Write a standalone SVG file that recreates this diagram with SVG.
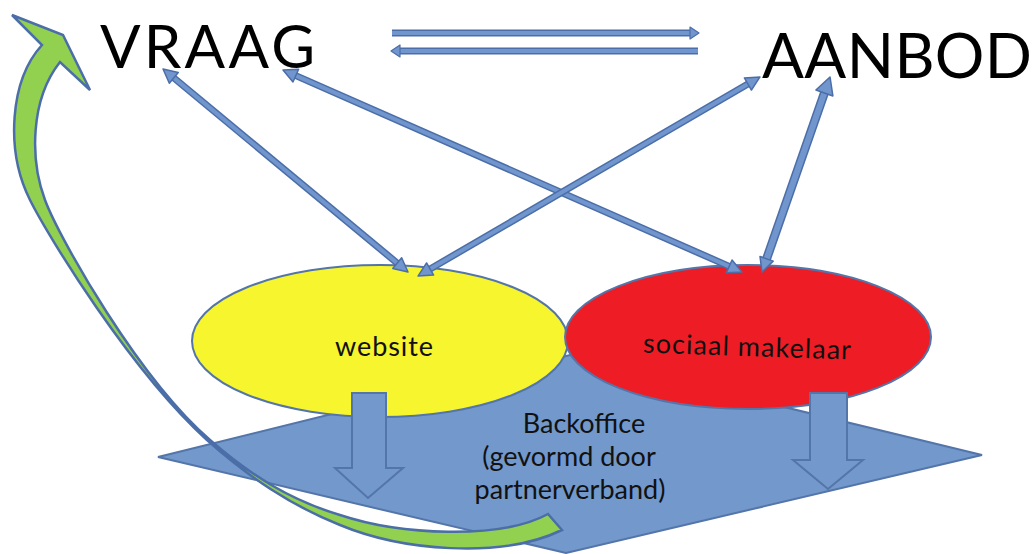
<svg xmlns="http://www.w3.org/2000/svg" width="1036" height="554" viewBox="0 0 1036 554">
<style>
.lbl{font-family:Lato,"Open Sans","Liberation Sans",sans-serif;fill:#111;}
.big{font-family:Lato,"Liberation Sans",sans-serif;fill:#000;}
.shape{stroke:#5475a9;stroke-width:2;}
.conOut{stroke:#4b6ea8;fill:none;stroke-linecap:butt;}
.conIn{stroke:#7195cd;fill:none;stroke-linecap:butt;}
</style>
<defs>
<marker id="ah" markerUnits="userSpaceOnUse" viewBox="-2 -10 20 20" refX="0" refY="0" markerWidth="20" markerHeight="20" orient="auto-start-reverse">
<path d="M0,-7 L14,0 L0,7 Z" fill="#7195cd" stroke="#4b6ea8" stroke-width="1.5" stroke-linejoin="round"/>
</marker>
<marker id="ahL" markerUnits="userSpaceOnUse" viewBox="-2 -12 24 24" refX="0" refY="0" markerWidth="24" markerHeight="24" orient="auto-start-reverse">
<path d="M0,-9 L17,0 L0,9 Z" fill="#7195cd" stroke="#4b6ea8" stroke-width="1.5" stroke-linejoin="round"/>
</marker>
<marker id="ahS" markerUnits="userSpaceOnUse" viewBox="-2 -8 14 16" refX="0" refY="0" markerWidth="14" markerHeight="16" orient="auto-start-reverse">
<path d="M0,-6 L9,0 L0,6 Z" fill="#7195cd" stroke="#4b6ea8" stroke-width="1.2" stroke-linejoin="round"/>
</marker>
</defs>
<rect width="1036" height="554" fill="#ffffff"/>

<g id="backoffice">
<polygon class="shape" points="158,457 570,355 982,455 566,553" fill="#7298cc"/>
</g>

<g id="website">
<ellipse class="shape" cx="380" cy="341" rx="188" ry="76" fill="#f6f52e"/>
<text class="lbl" x="384" y="356" font-size="27" text-anchor="middle" textLength="98">website</text>
</g>

<g id="sociaal-makelaar">
<ellipse class="shape" cx="748" cy="337" rx="183" ry="72" fill="#ee1d25"/>
<text class="lbl" x="747" y="356" font-size="27" text-anchor="middle" textLength="208" transform="rotate(1.9 747 348)">sociaal makelaar</text>
</g>

<g id="down-arrows">
<polygon class="shape" points="352,393 386,393 386,468 403,468 368,498 335,468 352,468" fill="#7298cc"/>
<polygon class="shape" points="810,393 847,393 847,460 863,460 828,489 793,460 810,460" fill="#7298cc"/>
</g>

<g id="backoffice-label">
<text class="lbl" x="584" y="433" font-size="27" text-anchor="middle">Backoffice</text>
<text class="lbl" x="569" y="466" font-size="27" text-anchor="middle">(gevormd door</text>
<text class="lbl" x="570" y="499" font-size="27" text-anchor="middle">partnerverband)</text>
</g>

<g id="vraag">
<text class="big" x="100" y="68" font-size="60" textLength="215">VRAAG</text>
</g>

<g id="aanbod">
<text class="big" x="762" y="78" font-size="62" textLength="270">AANBOD</text>
</g>

<g id="connectors">
<line class="conOut" x1="173.8" y1="77.9" x2="397.2" y2="263.1" stroke-width="7"/>
<line class="conIn" x1="173.8" y1="77.9" x2="397.2" y2="263.1" stroke-width="4" marker-start="url(#ah)" marker-end="url(#ah)"/>

<line class="conOut" x1="295.8" y1="75.6" x2="729.2" y2="266.4" stroke-width="7"/>
<line class="conIn" x1="295.8" y1="75.6" x2="729.2" y2="266.4" stroke-width="4" marker-start="url(#ah)" marker-end="url(#ah)"/>

<line class="conOut" x1="747.9" y1="84.0" x2="430.1" y2="269.0" stroke-width="7"/>
<line class="conIn" x1="747.9" y1="84.0" x2="430.1" y2="269.0" stroke-width="4" marker-start="url(#ah)" marker-end="url(#ah)"/>

<line class="conOut" x1="824.4" y1="93" x2="766.6" y2="258.8" stroke-width="9"/>
<line class="conIn" x1="824.4" y1="93" x2="766.6" y2="258.8" stroke-width="6" marker-start="url(#ahL)" marker-end="url(#ah)"/>

<line class="conOut" x1="392" y1="33" x2="690" y2="33" stroke-width="7"/>
<line class="conIn" x1="392" y1="33" x2="690" y2="33" stroke-width="4" marker-end="url(#ahS)"/>

<line class="conOut" x1="400" y1="51" x2="698" y2="51" stroke-width="7"/>
<line class="conIn" x1="400" y1="51" x2="698" y2="51" stroke-width="4" marker-start="url(#ahS)"/>

<path id="green-arrow" d="M42,45 C10,80 5,150 30,200 C48,236 130,370 207,440 C250,478 290,505 340,525 C400,550 500,560 562,530 L548,514 C500,540 400,535 340,515 C290,500 250,475 210,440 C140,380 60,240 45,200 C30,160 30,100 60,62 L90,90 L63,35 L12,15 Z" fill="#92d050" stroke="#4b6ea8" stroke-width="2.5" stroke-linejoin="miter"/>
</g>
</svg>
